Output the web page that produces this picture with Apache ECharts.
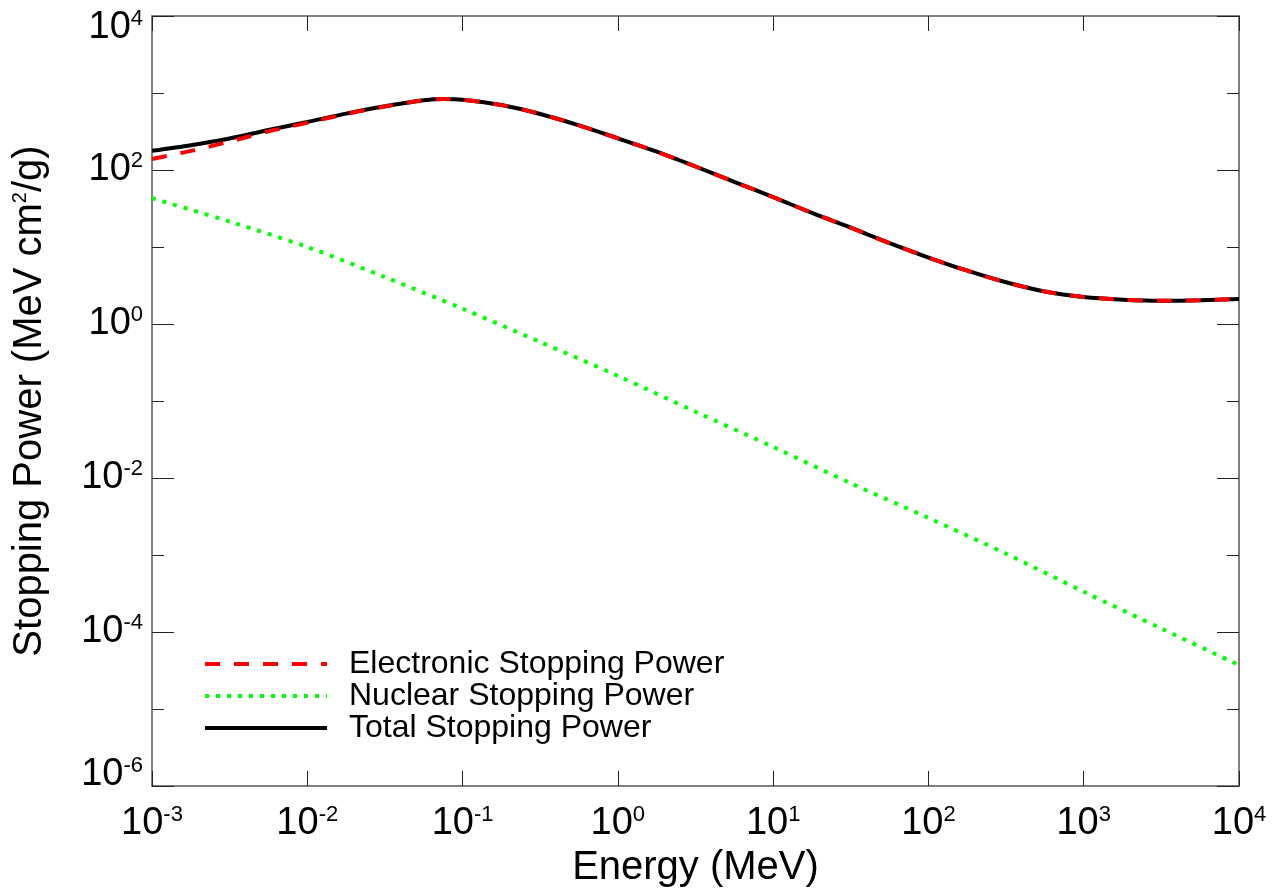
<!DOCTYPE html>
<html>
<head>
<meta charset="utf-8">
<script src="https://cdn.jsdelivr.net/npm/echarts@6/dist/echarts.min.js"></script>
<style>
html,body{margin:0;padding:0;background:#fff;}
#chart{width:1284px;height:894px;}
</style>
</head>
<body>
<div id="chart"></div>
<script>
// Energies (MeV) for the electronic / total curves
const energy = [0.001, 0.00178, 0.00316, 0.00562, 0.01, 0.0178, 0.0316, 0.0562, 0.075, 0.1,
  0.178, 0.316, 0.562, 1, 1.78, 3.16, 5.62, 10, 17.8, 31.6, 56.2, 100, 178, 316, 562,
  1000, 1780, 3160, 5620, 10000];
// Electronic stopping power (MeV cm^2/g)
const electronic = [139, 177, 234, 317, 410, 534, 668, 803, 836, 816, 696, 534, 380, 258,
  173, 111, 70, 44.5, 27.7, 17.8, 11.2, 7.3, 4.92, 3.48, 2.64, 2.24, 2.07, 2.0, 2.03, 2.11];
// Total stopping power (MeV cm^2/g)
const total = [178, 210, 257, 330, 420, 540, 672, 805, 838, 818, 697, 534, 380, 258,
  173, 111, 70, 44.5, 27.7, 17.8, 11.2, 7.3, 4.92, 3.48, 2.64, 2.24, 2.07, 2.0, 2.03, 2.11];
// Energies for the nuclear curve
const nucEnergy = [0.001, 0.00316, 0.01, 0.0316, 0.1, 0.316, 1, 3.16, 10, 31.6, 100, 316,
  1000, 3160, 10000];
// Nuclear stopping power (MeV cm^2/g)
const nuclear = [43, 21.4, 10.0, 4.06, 1.58, 0.584, 0.212, 0.0726, 0.0253, 0.00855,
  0.00303, 0.00104, 3.33e-4, 1.11e-4, 3.72e-5];

const seriesNames = ['Electronic Stopping Power', 'Nuclear Stopping Power', 'Total Stopping Power'];
const xTitle = 'Energy (MeV)';
const yTitle = 'Stopping Power (MeV cm{s|2}/g)';
const yMin = 1e-6, yMax = 1e4, xMin = 1e-3, xMax = 1e4;

const FONT = "'Liberation Sans', Arial, Helvetica, sans-serif";

function pairs(xs, ys) { return xs.map((x, i) => [x, ys[i]]); }
function expOf(v) { return Math.round(Math.log10(v)); }
function powText(e) { return '{b|10}{s|' + e + '}'; }
function xLabel(v) { return powText(expOf(v)); }
function yLabel(v) {
  const e = expOf(v);
  if (e === expOf(yMax)) return '{gap| }\n' + powText(e);
  if (e === expOf(yMin)) return powText(e) + '\n{gap| }';
  return powText(e);
}
const labelRich = {
  b: { fontSize: 38, lineHeight: 40, fontFamily: FONT, color: '#000' },
  s: { fontSize: 22, lineHeight: 22, fontFamily: FONT, color: '#000', verticalAlign: 'top' },
  gap: { fontSize: 1, lineHeight: 23, fontFamily: FONT, color: '#000' }
};
const lineColor = '#555';

const chart = echarts.init(document.getElementById('chart'), null, { renderer: 'canvas' });

const common = { type: 'log', logBase: 10, splitLine: { show: false } };

chart.setOption({
  backgroundColor: '#fff',
  animation: false,
  grid: { left: 152, right: 45, top: 16, bottom: 108, containLabel: false, outerBoundsMode: 'none' },
  legend: {
    data: seriesNames,
    orient: 'vertical',
    left: 203, top: 648, padding: 0,
    itemWidth: 122, itemHeight: 14, itemGap: 0,
    selectedMode: false,
    itemStyle: { opacity: 0 },
    lineStyle: { width: 4 },
    textStyle: { fontSize: 32, lineHeight: 31.5, fontFamily: FONT, color: '#000', padding: [0, 0, 0, 17] }
  },
  xAxis: [
    Object.assign({}, common, {
      position: 'bottom', min: xMin, max: xMax, interval: 1,
      name: xTitle, nameLocation: 'middle', nameGap: 61,
      nameTextStyle: { fontSize: 40, fontFamily: FONT, color: '#000' },
      axisLine: { show: true, lineStyle: { color: lineColor, width: 1.5 } },
      axisTick: { show: true, inside: true, length: 15, lineStyle: { color: '#222', width: 1 } },
      axisLabel: { show: true, margin: 18, formatter: xLabel, rich: labelRich, showMinLabel: true, showMaxLabel: true }
    }),
    Object.assign({}, common, {
      position: 'top', min: xMin, max: xMax, interval: 1,
      axisLine: { show: true, lineStyle: { color: lineColor, width: 1.5 } },
      axisTick: { show: true, inside: true, length: 15, lineStyle: { color: '#222', width: 1 } },
      axisLabel: { show: false }
    })
  ],
  yAxis: [
    Object.assign({}, common, {
      position: 'left', min: yMin, max: yMax, interval: 2,
      name: yTitle, nameLocation: 'middle', nameGap: 102, nameRotate: 90,
      nameTextStyle: { fontSize: 40, fontFamily: FONT, color: '#000',
        rich: { s: { fontSize: 20, fontFamily: FONT, color: '#000', verticalAlign: 'top' } } },
      axisLine: { show: true, lineStyle: { color: lineColor, width: 1.5 } },
      axisTick: { show: true, inside: true, length: 22, lineStyle: { color: '#222', width: 1 } },
      axisLabel: { show: true, margin: 9, formatter: yLabel, rich: labelRich, showMinLabel: true, showMaxLabel: true }
    }),
    Object.assign({}, common, {
      position: 'left', min: yMin, max: yMax, interval: 1,
      axisLine: { show: false },
      axisTick: { show: true, inside: true, length: 12, lineStyle: { color: '#222', width: 1 } },
      axisLabel: { show: false }
    }),
    Object.assign({}, common, {
      position: 'right', min: yMin, max: yMax, interval: 2,
      axisLine: { show: true, lineStyle: { color: lineColor, width: 1.5 } },
      axisTick: { show: true, inside: true, length: 22, lineStyle: { color: '#222', width: 1 } },
      axisLabel: { show: false }
    }),
    Object.assign({}, common, {
      position: 'right', min: yMin, max: yMax, interval: 1,
      axisLine: { show: false },
      axisTick: { show: true, inside: true, length: 12, lineStyle: { color: '#222', width: 1 } },
      axisLabel: { show: false }
    })
  ],
  series: [
    {
      name: seriesNames[2], type: 'line', xAxisIndex: 0, yAxisIndex: 0,
      data: pairs(energy, total), symbol: 'none', smooth: 0.3, z: 3,
      lineStyle: { color: '#000', width: 4, type: 'solid' }, itemStyle: { color: '#000' }
    },
    {
      name: seriesNames[0], type: 'line', xAxisIndex: 0, yAxisIndex: 0,
      data: pairs(energy, electronic), symbol: 'none', smooth: 0.3, z: 4,
      lineStyle: { color: '#ff0000', width: 4, type: [15, 14] }, itemStyle: { color: '#ff0000' }
    },
    {
      name: seriesNames[1], type: 'line', xAxisIndex: 0, yAxisIndex: 0,
      data: pairs(nucEnergy, nuclear), symbol: 'none', smooth: 0.3, z: 3,
      lineStyle: { color: '#00ff00', width: 4, type: [4, 7] }, itemStyle: { color: '#00ff00' }
    }
  ]
});
</script>
</body>
</html>
